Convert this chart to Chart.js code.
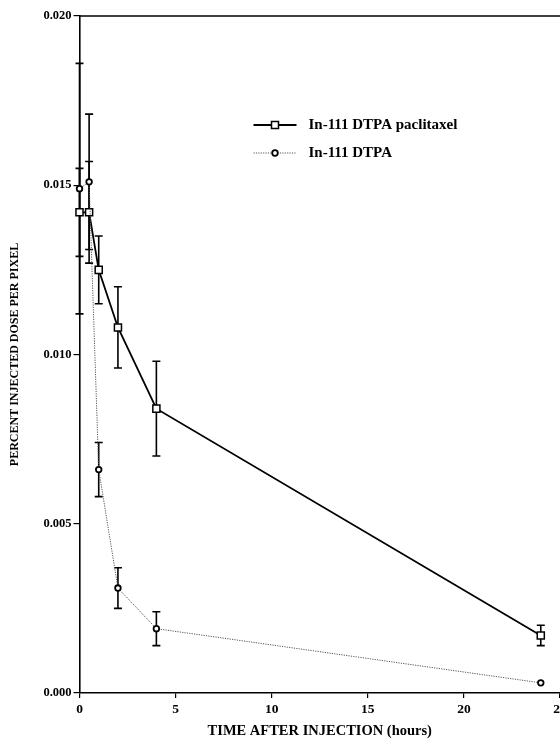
<!DOCTYPE html>
<html>
<head>
<meta charset="utf-8">
<script src="https://cdn.jsdelivr.net/npm/chart.js@4.4.0/dist/chart.umd.min.js"></script>
<style>
  html, body { margin: 0; padding: 0; background: #fff; overflow: hidden; }
  #wrap { width: 600px; height: 740px; }
</style>
</head>
<body>
<div id="wrap"><canvas id="chart" width="600" height="740"></canvas></div>
<script>
// values
const hours = [0, 0.5, 1, 2, 4, 24];
const paclitaxel = [0.0142, 0.0142, 0.0125, 0.0108, 0.0084, 0.0017];
const paclitaxelErr = [0.0013, 0.0015, 0.0010, 0.0012, 0.0014, 0.0003];
const dtpa = [0.0149, 0.0151, 0.0066, 0.0031, 0.0019, 0.0003];
const dtpaErr = [0.0037, 0.0020, 0.0008, 0.0006, 0.0005, 0];
const xTicks = [0, 5, 10, 15, 20, 25];
const yTicks = [0, 0.005, 0.010, 0.015, 0.020];
const seriesNames = ['In-111 DTPA paclitaxel', 'In-111 DTPA'];

const FONT = "'Liberation Serif', 'Times New Roman', serif";

const toPoints = (ys) => hours.map((h, i) => ({ x: h, y: ys[i] }));

// vertical error bars with caps, drawn under the lines
const errorBars = {
  id: 'errorBars',
  beforeDatasetsDraw(chart) {
    const { ctx, scales: { x, y } } = chart;
    ctx.save();
    ctx.strokeStyle = '#000';
    ctx.lineWidth = 1.6;
    chart.data.datasets.forEach(ds => {
      ds.data.forEach((p, i) => {
        const e = ds.errors[i];
        if (!e) return;
        const px = x.getPixelForValue(p.x);
        const top = y.getPixelForValue(p.y + e);
        const bot = y.getPixelForValue(p.y - e);
        ctx.beginPath();
        ctx.moveTo(px, top); ctx.lineTo(px, bot);
        ctx.moveTo(px - 4, top); ctx.lineTo(px + 4, top);
        ctx.moveTo(px - 4, bot); ctx.lineTo(px + 4, bot);
        ctx.stroke();
      });
    });
    ctx.restore();
  }
};

// top frame line + legend with line/marker samples
const frameAndLegend = {
  id: 'frameAndLegend',
  afterDraw(chart) {
    const { ctx, chartArea } = chart;
    ctx.save();
    ctx.strokeStyle = '#000';
    ctx.lineWidth = 1.5;
    ctx.beginPath();
    ctx.moveTo(chartArea.left, chartArea.top);
    ctx.lineTo(chartArea.right + 10, chartArea.top);
    ctx.stroke();

    const x0 = chartArea.left + 174, x1 = chartArea.left + 217;
    chart.data.datasets.forEach((ds, i) => {
      const yy = chartArea.top + 109 + i * 28;
      ctx.save();
      ctx.strokeStyle = ds.borderColor;
      ctx.lineWidth = ds.borderWidth;
      ctx.setLineDash(ds.borderDash || []);
      ctx.beginPath();
      ctx.moveTo(x0, yy); ctx.lineTo(x1, yy);
      ctx.stroke();
      ctx.restore();
      const mx = (x0 + x1) / 2;
      ctx.fillStyle = '#fff';
      ctx.strokeStyle = '#000';
      ctx.lineWidth = ds.pointBorderWidth;
      ctx.beginPath();
      if (ds.pointStyle === 'rect') {
        ctx.rect(mx - 3.5, yy - 3.5, 7, 7);
      } else {
        ctx.arc(mx, yy, ds.pointRadius, 0, Math.PI * 2);
      }
      ctx.fill(); ctx.stroke();
      ctx.fillStyle = '#000';
      ctx.font = 'bold 15px ' + FONT;
      ctx.textBaseline = 'middle';
      ctx.fillText(ds.label, x1 + 12, yy);
    });
    ctx.restore();
  }
};

new Chart(document.getElementById('chart'), {
  type: 'line',
  data: {
    datasets: [{
      label: seriesNames[0],
      data: toPoints(paclitaxel),
      errors: paclitaxelErr,
      borderColor: '#000',
      borderWidth: 1.8,
      pointStyle: 'rect',
      pointRadius: 5,
      pointBorderWidth: 1.5,
      pointBackgroundColor: '#fff',
      pointBorderColor: '#000',
      clip: false,
      order: 1
    }, {
      label: seriesNames[1],
      data: toPoints(dtpa),
      errors: dtpaErr,
      borderColor: '#555',
      borderWidth: 1,
      borderDash: [1.2, 1.2],
      pointStyle: 'circle',
      pointRadius: 2.8,
      pointBorderWidth: 1.8,
      pointBackgroundColor: '#fff',
      pointBorderColor: '#000',
      clip: false,
      order: 0
    }]
  },
  options: {
    responsive: false,
    animation: false,
    devicePixelRatio: 1,
    layout: { padding: { top: 16, right: 40, bottom: 0, left: 0 } },
    plugins: {
      legend: { display: false },
      tooltip: { enabled: false }
    },
    scales: {
      x: {
        type: 'linear',
        min: 0, max: 25,
        afterFit(s) { s.height = 47; },
        afterBuildTicks(s) { s.ticks = xTicks.map(v => ({ value: v })); },
        grid: { drawOnChartArea: false, color: '#000', tickLength: 5, lineWidth: 1.2 },
        border: { color: '#000', width: 1.6 },
        ticks: {
          color: '#000',
          padding: 3,
          maxRotation: 0,
          font: { family: FONT, size: 13.5, weight: 'bold' }
        },
        title: {
          display: true,
          text: 'TIME AFTER INJECTION (hours)',
          color: '#000',
          padding: { top: 0, bottom: 0 },
          font: { family: FONT, size: 14.5, weight: 'bold' }
        }
      },
      y: {
        min: 0, max: 0.02,
        afterFit(s) { s.width = 79.5; },
        afterBuildTicks(s) { s.ticks = yTicks.map(v => ({ value: v })); },
        grid: { drawOnChartArea: false, color: '#000', tickLength: 6, lineWidth: 1.2 },
        border: { color: '#000', width: 1.6 },
        ticks: {
          color: '#000',
          padding: 2,
          font: { family: FONT, size: 12.5, weight: 'bold' },
          callback: v => v.toFixed(3)
        },
        title: {
          display: true,
          text: 'PERCENT INJECTED DOSE PER PIXEL',
          color: '#000',
          padding: { top: 8, bottom: 4 },
          font: { family: FONT, size: 12, weight: 'bold' }
        }
      }
    }
  },
  plugins: [errorBars, frameAndLegend]
});
</script>
</body>
</html>
